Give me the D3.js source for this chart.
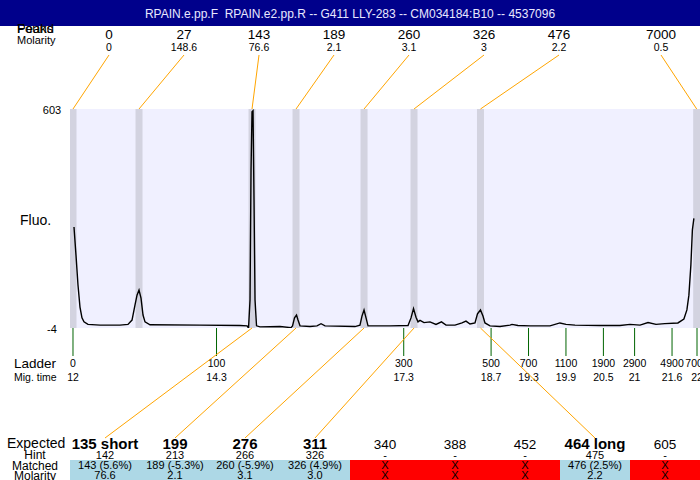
<!DOCTYPE html>
<meta charset="utf-8">
<style>
body { margin: 0; background: #fff; }
svg { display: block; font-family: "Liberation Sans", Arial, sans-serif; }
.title { white-space: pre; }
</style>
<svg id="chart"></svg>
<script src="https://d3js.org/d3.v7.min.js"></script>
<script>

var title = "RPAIN.e.pp.F  RPAIN.e2.pp.R -- G411 LLY-283 -- CM034184:B10 -- 4537096";

// peaks found in the trace
var peakSize = [0, 27, 143, 189, 260, 326, 476, 7000];
var peakMolarity = [0, 148.6, 76.6, 2.1, 3.1, 3, 2.2, 0.5];
var peakTime = [12, 13.058, 14.869, 15.574, 16.664, 17.465, 18.530, 21.995];

// ladder
var ladderSize = [0, 100, 300, 500, 700, 1100, 1900, 2900, 4900, 7000];
var ladderTime = [12, 14.3, 17.3, 18.7, 19.3, 19.9, 20.5, 21, 21.6, 22];

// expected table
var expected = ["135 short", "199", "276", "311", "340", "388", "452", "464 long", "605"];
var hint = ["142", "213", "266", "326", "-", "-", "-", "475", "-"];
var matched = ["143 (5.6%)", "189 (-5.3%)", "260 (-5.9%)", "326 (4.9%)", "X", "X", "X", "476 (2.5%)", "X"];
var matchedMolarity = ["76.6", "2.1", "3.1", "3.0", "X", "X", "X", "2.2", "X"];
var matchedPeak = [2, 3, 4, 5, null, null, null, 6, null];

// fluorescence trace [mig. time, fluo]
var trace = [
  [12.016, 276], [12.048, 198], [12.080, 115], [12.112, 54], [12.144, 24], [12.176, 13],
  [12.240, 6], [12.433, 4], [12.753, 4], [12.881, 6], [12.946, 18], [12.994, 60],
  [13.026, 87], [13.058, 101], [13.090, 79], [13.122, 32], [13.154, 13], [13.234, 5],
  [14.035, 4], [14.676, 3], [14.789, 2], [14.813, -4], [14.837, 74], [14.853, 434],
  [14.869, 595], [14.885, 598], [14.901, 351], [14.917, 74], [14.941, 2], [14.997, -1],
  [15.317, 0], [15.494, -3], [15.518, 2], [15.550, 24], [15.582, 32], [15.606, 18],
  [15.638, 2], [15.798, 0], [15.910, 2], [15.975, 8], [16.039, 2], [16.519, 0],
  [16.599, 4], [16.631, 29], [16.664, 46], [16.696, 24], [16.728, 2], [17.080, 2],
  [17.369, 3], [17.417, 24], [17.457, 50], [17.497, 26], [17.529, 13], [17.561, 17],
  [17.625, 11], [17.721, 13], [17.817, 6], [17.905, 13], [17.978, 4], [18.122, 4],
  [18.234, 10], [18.298, 15], [18.362, 7], [18.442, 10], [18.482, 35], [18.530, 46],
  [18.570, 29], [18.602, 10], [18.683, 2], [18.843, 0], [19.003, 4], [19.035, 6],
  [19.131, 3], [19.324, 2], [19.644, 2], [19.804, 10], [19.901, 6], [20.045, 4],
  [20.446, 3], [20.766, 3], [20.926, 6], [21.087, 4], [21.215, 11], [21.343, 6],
  [21.485, 8], [21.694, 10], [21.790, 21], [21.838, 46], [21.870, 87], [21.902, 171],
  [21.926, 268], [21.950, 300]
];

var width = 700,
    height = 480;

var plot = {left: 70, right: 700, top: 109, bottom: 328};

var svg = d3.select("#chart")
    .attr("width", width)
    .attr("height", height);

var x = d3.scaleLinear()
    .domain([11.952, 22.048])
    .range([plot.left, plot.right]);

var y = d3.scaleLinear()
    .domain([-4, 603])
    .range([plot.bottom, plot.top]);

var col = d3.scaleBand()
    .domain(d3.range(expected.length))
    .range([plot.left, plot.right]);

// header
svg.append("rect")
    .attr("width", width)
    .attr("height", 26)
    .attr("fill", "#00008b");

svg.append("text")
    .attr("class", "title")
    .attr("x", 350)
    .attr("y", 18)
    .attr("text-anchor", "middle")
    .attr("fill", "#e8e8ff")
    .style("font-size", "12px")
    .text(title);

// top-left labels (overlapping, as in the original)
svg.append("text").attr("x", 17).attr("y", 33).style("font-size", "13px").text("Found");
svg.append("text").attr("x", 17).attr("y", 33).style("font-size", "13px").text("Peaks");
svg.append("text").attr("x", 17).attr("y", 44).style("font-size", "11px").text("Molarity");

// plot background
svg.append("rect")
    .attr("x", plot.left)
    .attr("y", plot.top)
    .attr("width", plot.right - plot.left)
    .attr("height", plot.bottom - plot.top)
    .attr("fill", "#f0f0ff");

svg.append("clipPath").attr("id", "clip")
  .append("rect")
    .attr("x", plot.left)
    .attr("y", plot.top)
    .attr("width", plot.right - plot.left)
    .attr("height", plot.bottom - plot.top);

var bands = svg.append("g").attr("clip-path", "url(#clip)");

bands.selectAll("rect")
    .data(peakTime)
  .enter().append("rect")
    .attr("x", function(d) { return x(d) - 3.5; })
    .attr("y", plot.top)
    .attr("width", 7)
    .attr("height", plot.bottom - plot.top)
    .attr("fill", "#d3d3e0");

// y labels
svg.append("text").attr("x", 52).attr("y", 114).attr("text-anchor", "middle")
    .style("font-size", "11px").text(y.domain()[1]);
svg.append("text").attr("x", 52).attr("y", 333).attr("text-anchor", "middle")
    .style("font-size", "11px").text(y.domain()[0]);
svg.append("text").attr("x", 20).attr("y", 225)
    .style("font-size", "14px").text("Fluo.");

// peak labels on top, pushed apart
var labelX = [];
peakTime.forEach(function(t, i) {
  var px = Math.max(109, Math.min(661, x(t)));
  labelX[i] = i ? Math.min(661, Math.max(px, labelX[i - 1] + 75)) : px;
});

var peakLabels = svg.append("g");

peakLabels.selectAll("line")
    .data(peakTime)
  .enter().append("line")
    .attr("x1", function(d, i) { return labelX[i]; })
    .attr("y1", 55)
    .attr("x2", function(d) { return x(d); })
    .attr("y2", plot.top)
    .attr("stroke", "orange");

peakLabels.selectAll(".size")
    .data(peakSize)
  .enter().append("text")
    .attr("class", "size")
    .attr("x", function(d, i) { return labelX[i]; })
    .attr("y", 39)
    .attr("text-anchor", "middle")
    .style("font-size", "13.5px")
    .text(function(d) { return d; });

peakLabels.selectAll(".mol")
    .data(peakMolarity)
  .enter().append("text")
    .attr("class", "mol")
    .attr("x", function(d, i) { return labelX[i]; })
    .attr("y", 51)
    .attr("text-anchor", "middle")
    .style("font-size", "10.5px")
    .text(function(d) { return d; });

// trace
var line = d3.line()
    .x(function(d) { return x(d[0]); })
    .y(function(d) { return y(d[1]); });

svg.append("path")
    .datum(trace)
    .attr("clip-path", "url(#clip)")
    .attr("fill", "none")
    .attr("stroke", "#000")
    .attr("stroke-width", 1.4)
    .attr("d", line);

// ladder
var ladder = svg.append("g");

ladder.selectAll("line")
    .data(ladderTime)
  .enter().append("line")
    .attr("x1", function(d) { return x(d); })
    .attr("x2", function(d) { return x(d); })
    .attr("y1", plot.bottom)
    .attr("y2", 356)
    .attr("stroke", "#006400");

ladder.selectAll(".lsize")
    .data(ladderSize)
  .enter().append("text")
    .attr("class", "lsize")
    .attr("x", function(d, i) { return x(ladderTime[i]); })
    .attr("y", 367)
    .attr("text-anchor", "middle")
    .style("font-size", "10.5px")
    .text(function(d) { return d; });

ladder.selectAll(".ltime")
    .data(ladderTime)
  .enter().append("text")
    .attr("class", "ltime")
    .attr("x", function(d) { return x(d); })
    .attr("y", 381)
    .attr("text-anchor", "middle")
    .style("font-size", "10.5px")
    .text(function(d) { return d; });

svg.append("text").attr("x", 14).attr("y", 368).style("font-size", "13.5px").text("Ladder");
svg.append("text").attr("x", 14).attr("y", 381).style("font-size", "10.5px").text("Mig. time");

// connectors from matched peaks to expected columns
svg.append("g").selectAll("line")
    .data(d3.range(expected.length).filter(function(i) { return matchedPeak[i] != null; }))
  .enter().append("line")
    .attr("x1", function(i) { return x(peakTime[matchedPeak[i]]); })
    .attr("y1", plot.bottom)
    .attr("x2", function(i) { return col(i) + col.bandwidth() / 2; })
    .attr("y2", 438)
    .attr("stroke", "orange");

// expected table
var table = svg.append("g");

table.selectAll("rect")
    .data(matched)
  .enter().append("rect")
    .attr("x", function(d, i) { return col(i); })
    .attr("y", 460)
    .attr("width", col.bandwidth())
    .attr("height", 20)
    .attr("fill", function(d, i) { return matchedPeak[i] != null ? "#add8e6" : "#ff0000"; });

table.selectAll(".exp")
    .data(expected)
  .enter().append("text")
    .attr("class", "exp")
    .attr("x", function(d, i) { return col(i) + col.bandwidth() / 2; })
    .attr("y", 449)
    .attr("text-anchor", "middle")
    .style("font-size", function(d, i) { return matchedPeak[i] != null ? "15px" : "13.5px"; })
    .style("font-weight", function(d, i) { return matchedPeak[i] != null ? "bold" : "normal"; })
    .text(function(d) { return d; });

[[hint, 459], [matched, 469], [matchedMolarity, 479]].forEach(function(row, r) {
  table.selectAll(".row" + r)
      .data(row[0])
    .enter().append("text")
      .attr("class", "row" + r)
      .attr("x", function(d, i) { return col(i) + col.bandwidth() / 2; })
      .attr("y", row[1])
      .attr("text-anchor", "middle")
      .style("font-size", "11px")
      .text(function(d) { return d; });
});

svg.append("text").attr("x", 7).attr("y", 448).style("font-size", "14px").text("Expected");
[["Hint", 459], ["Matched", 470], ["Molarity", 480]].forEach(function(l) {
  svg.append("text")
      .attr("x", 35)
      .attr("y", l[1])
      .attr("text-anchor", "middle")
      .style("font-size", "12px")
      .text(l[0]);
});

</script>
